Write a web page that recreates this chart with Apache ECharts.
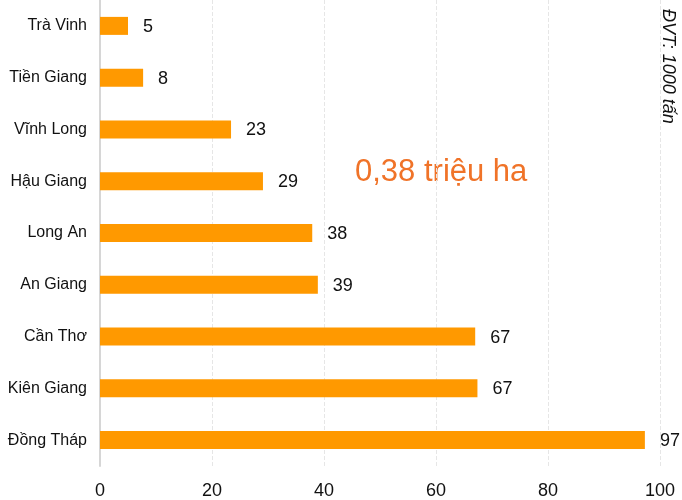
<!DOCTYPE html>
<html>
<head>
<meta charset="utf-8">
<script src="https://cdn.jsdelivr.net/npm/echarts@6/dist/echarts.min.js"></script>
<style>
  html, body { margin: 0; padding: 0; background: #fff; }
  #chart { width: 682px; height: 500px; }
</style>
</head>
<body>
<div id="chart"></div>
<script>
// Provinces, top to bottom as drawn
const provinces = ['Trà Vinh', 'Tiền Giang', 'Vĩnh Long', 'Hậu Giang', 'Long An', 'An Giang', 'Cần Thơ', 'Kiên Giang', 'Đồng Tháp'];
// Output, 1000 tonnes (bar lengths)
const output = [5, 7.7, 23.4, 29.1, 37.9, 38.9, 67.0, 67.4, 97.3];
const xTicks = [0, 20, 40, 60, 80, 100];

const FONT = '"Liberation Sans", Arial, sans-serif';

const chart = echarts.init(document.getElementById('chart'));
chart.setOption({
  animation: false,
  backgroundColor: '#fff',
  textStyle: { fontFamily: FONT },
  grid: { left: 100, right: 22, top: 0, bottom: 34 },
  xAxis: {
    type: 'value',
    min: xTicks[0],
    max: xTicks[xTicks.length - 1],
    interval: 20,
    axisLine: { show: false },
    axisTick: { show: false },
    axisLabel: { color: '#111', fontSize: 18, margin: 16, fontFamily: FONT },
    splitLine: { lineStyle: { color: '#e6e6e6', type: 'dashed', width: 1 } }
  },
  yAxis: {
    type: 'category',
    inverse: true,
    data: provinces,
    axisLine: { lineStyle: { color: '#d6d6d6', width: 2 } },
    axisTick: { show: false },
    axisLabel: { color: '#111', fontSize: 16, margin: 13, fontFamily: FONT }
  },
  series: [{
    type: 'bar',
    data: output,
    barWidth: 18,
    itemStyle: { color: '#ff9900' },
    label: {
      show: true,
      position: 'right',
      distance: 15,
      offset: [0, 1],
      color: '#111',
      fontSize: 18,
      fontFamily: FONT,
      formatter: p => Math.round(p.value)
    }
  }],
  graphic: [
    {
      type: 'text',
      left: 355,
      top: 157,
      style: { text: '0,38 triệu ha', fill: '#f07328', fontSize: 31, fontFamily: FONT }
    },
    {
      type: 'text',
      x: 677,
      y: 9,
      rotation: -Math.PI / 2,
      style: { text: 'ĐVT: 1000 tấn', fill: '#111', fontSize: 18, fontStyle: 'italic', fontFamily: FONT, verticalAlign: 'top' }
    }
  ]
});
window.addEventListener('resize', () => chart.resize());
</script>
</body>
</html>
